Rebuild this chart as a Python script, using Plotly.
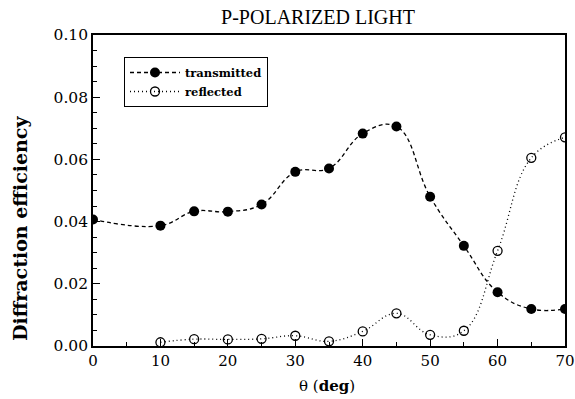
import plotly.graph_objects as go

theta_t = [0, 10, 15, 20, 25, 30, 35, 40, 45, 50, 55, 60, 65, 70]
eff_t = [0.0407, 0.0387, 0.0433, 0.0432, 0.0455, 0.0560, 0.0571, 0.0683, 0.0706, 0.0480, 0.0322, 0.0173, 0.0119, 0.0119]

theta_r = [10, 15, 20, 25, 30, 35, 40, 45, 50, 55, 60, 65, 70]
eff_r = [0.0012, 0.0022, 0.0021, 0.0023, 0.0033, 0.0015, 0.0047, 0.0105, 0.0036, 0.0049, 0.0306, 0.0605, 0.0671]

serif = "DejaVu Serif"
W, H = 575, 399
L, R, T, B = 93, 10, 35, 53
pw, ph = W - L - R, H - T - B

fig = go.Figure()
fig.add_trace(go.Scatter(
    x=theta_t, y=eff_t, name="<b>transmitted</b>", mode="lines+markers",
    line=dict(color="black", width=1.3, dash="4px,3px", shape="spline", smoothing=1.2),
    marker=dict(symbol="circle", size=10, color="black"),
))
fig.add_trace(go.Scatter(
    x=theta_r, y=eff_r, name="<b>reflected</b>", mode="lines+markers",
    line=dict(color="black", width=1.3, dash="1px,3px", shape="spline", smoothing=1.2),
    marker=dict(symbol="circle-open", size=9, color="black", line=dict(width=1.3)),
))

fig.update_layout(
    width=W, height=H,
    margin=dict(l=L, r=R, t=T, b=B, autoexpand=False),
    paper_bgcolor="white", plot_bgcolor="white",
    title=dict(text="P-POLARIZED LIGHT", x=318/W, xanchor="center", y=1-17/H, yanchor="middle",
               font=dict(family="Liberation Serif", size=20, color="black")),
    showlegend=True,
    legend=dict(x=(124-L)/pw, y=1-(57-T)/ph, xanchor="left", yanchor="top",
                bgcolor="white", bordercolor="black", borderwidth=1,
                font=dict(family=serif, size=11.5, color="black"),
                itemwidth=50, tracegroupgap=0),
    annotations=[
        dict(text="<b>Diffraction efficiency</b>", textangle=-90,
             xref="paper", yref="paper", x=-(L-20)/pw, y=1-(229-T)/ph,
             xanchor="center", yanchor="middle", showarrow=False,
             font=dict(family=serif, size=19, color="black")),
        dict(text="θ (<b>deg</b>)",
             xref="paper", yref="paper", x=(327-L)/pw, y=-(386-T-ph)/ph,
             xanchor="center", yanchor="middle", showarrow=False,
             font=dict(family=serif, size=15, color="black")),
    ],
)
fig.update_xaxes(
    range=[0, 70], dtick=10, tick0=0,
    showline=True, linecolor="black", linewidth=1.6, mirror=True,
    ticks="inside", ticklen=7, tickwidth=1.2, tickcolor="black",
    minor=dict(dtick=5, ticks="inside", ticklen=4, tickwidth=1, tickcolor="black"),
    showgrid=False, zeroline=False, automargin=False,
    tickfont=dict(family=serif, size=15, color="black"),
)
fig.update_yaxes(
    range=[0, 0.10], dtick=0.02, tick0=0, tickformat=".2f",
    showline=True, linecolor="black", linewidth=1.6, mirror=True,
    ticks="inside", ticklen=7, tickwidth=1.2, tickcolor="black",
    minor=dict(dtick=0.005, ticks="inside", ticklen=4, tickwidth=1, tickcolor="black"),
    showgrid=False, zeroline=False, automargin=False,
    tickfont=dict(family=serif, size=15.5, color="black"),
)

fig.write_html("out.html")
